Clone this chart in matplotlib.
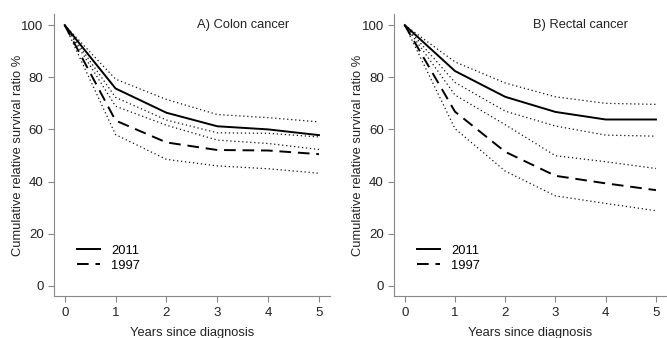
import matplotlib.pyplot as plt

plt.rcParams['font.family'] = ['Liberation Sans', 'DejaVu Sans']

years = [0, 1, 2, 3, 4, 5]

# A) colon cancer
colon_2011 = [100, 75.7, 66.4, 61.2, 60.0, 57.8]
colon_2011_hi = [100, 79.3, 71.5, 65.7, 64.5, 62.9]
colon_2011_lo = [100, 72.3, 63.6, 58.7, 58.5, 57.1]
colon_1997 = [100, 63.4, 55.0, 52.1, 51.9, 50.5]
colon_1997_hi = [100, 68.9, 61.6, 55.9, 54.6, 52.3]
colon_1997_lo = [100, 58.0, 48.5, 46.0, 44.9, 43.2]

# B) rectal cancer
rectal_2011 = [100, 82.4, 72.5, 66.7, 63.8, 63.8]
rectal_2011_hi = [100, 85.9, 77.8, 72.5, 70.0, 69.6]
rectal_2011_lo = [100, 78.0, 67.0, 61.3, 57.8, 57.4]
rectal_1997 = [100, 66.8, 51.4, 42.2, 39.3, 36.7]
rectal_1997_hi = [100, 73.2, 61.8, 49.9, 47.6, 45.0]
rectal_1997_lo = [100, 60.3, 44.0, 34.5, 31.6, 28.8]

panels = [
    ("A) Colon cancer", colon_2011, colon_2011_hi, colon_2011_lo,
     colon_1997, colon_1997_hi, colon_1997_lo),
    ("B) Rectal cancer", rectal_2011, rectal_2011_hi, rectal_2011_lo,
     rectal_1997, rectal_1997_hi, rectal_1997_lo),
]

fig = plt.figure(figsize=(6.67, 3.38), dpi=100)
rects = [[0.081, 0.124, 0.414, 0.834], [0.591, 0.124, 0.409, 0.834]]
fs = 9.3

for rect, (title, s11, h11, l11, s97, h97, l97) in zip(rects, panels):
    ax = fig.add_axes(rect)
    for ci in (h11, l11, h97, l97):
        ax.plot(years, ci, color="#111111", lw=0.9, linestyle=(0, (1, 2.2)))
    ax.plot(years, s11, color="black", lw=1.4, label="2011")
    ax.plot(years, s97, color="black", lw=1.4, linestyle=(0, (6, 3.5)), label="1997")
    ax.set_xlim(-0.21, 5.22)
    ax.set_ylim(-3.95, 104.2)
    ax.set_xticks(years)
    ax.set_yticks([0, 20, 40, 60, 80, 100])
    for side in ("top", "right"):
        ax.spines[side].set_visible(False)
    for side in ("left", "bottom"):
        ax.spines[side].set_color("#888888")
    ax.tick_params(colors="#888888", labelcolor="#222222", labelsize=9.5, length=4, width=0.8)
    ax.text(3.5, 100, title, ha="center", va="center", fontsize=fs, color="#222222")
    ax.set_xlabel("Years since diagnosis", fontsize=fs, color="#222222", labelpad=6)
    ax.set_ylabel("Cumulative relative survival ratio %", fontsize=fs, color="#222222",
                  va="center")
    ax.yaxis.set_label_coords(-0.131, 0.5)
    ax.legend(loc="lower left", bbox_to_anchor=(0.083, 0.087), frameon=False, fontsize=fs,
              handlelength=1.8, handletextpad=0.86, labelspacing=0.2, borderpad=0,
              borderaxespad=0)

fig.savefig("out.png", dpi=100)
